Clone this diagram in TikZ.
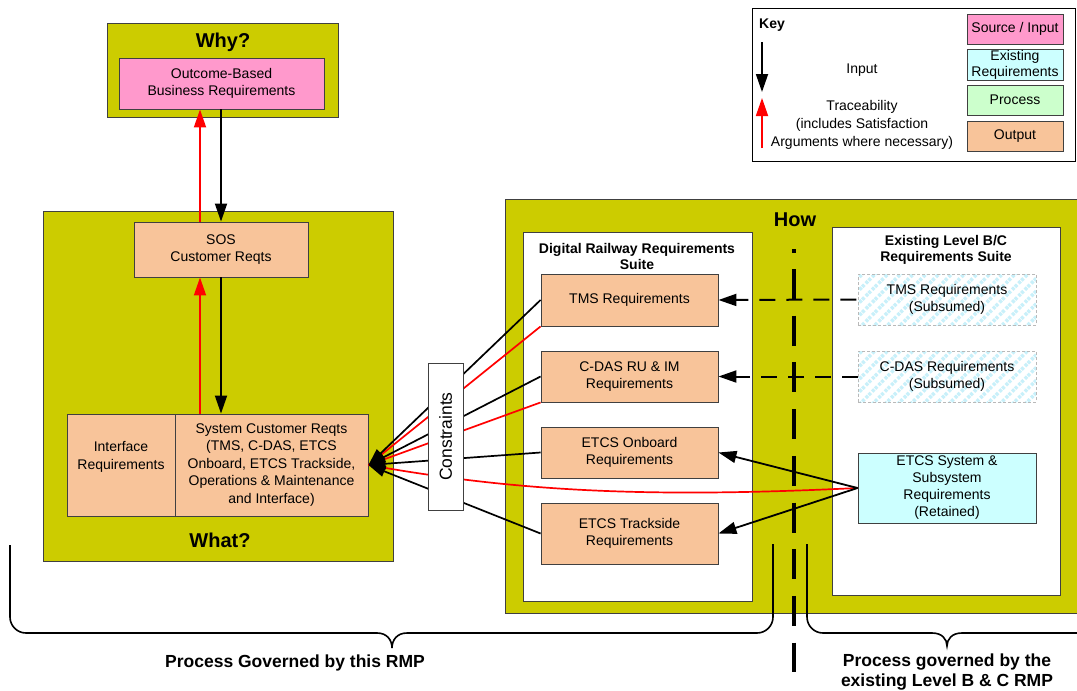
\documentclass[tikz,border=0pt]{standalone}
\usepackage{fontspec}
\setmainfont{Liberation Sans}
\usetikzlibrary{arrows.meta,patterns.meta,calc}

\definecolor{panelolive}{RGB}{204,204,0}
\definecolor{srcpink}{RGB}{255,153,204}
\definecolor{outpeach}{RGB}{248,196,154}
\definecolor{exicyan}{RGB}{204,255,255}
\definecolor{procgreen}{RGB}{204,255,204}
\definecolor{edgegray}{RGB}{64,64,64}
\definecolor{hatchcyan}{RGB}{200,240,250}
\definecolor{hatchedge}{RGB}{185,185,185}
\definecolor{tracered}{RGB}{255,0,0}

\tikzset{
  body/.style={font=\fontsize{14}{17.5}\selectfont, align=center},
  box/.style={draw=edgegray, line width=0.9pt, inner sep=0pt, body},
  panel/.style={draw=edgegray, line width=1pt, fill=panelolive, inner sep=0pt},
  suite/.style={draw=edgegray, line width=1pt, fill=white, inner sep=0pt},
  heading/.style={font=\fontsize{20}{24}\selectfont\bfseries},
  subhead/.style={font=\fontsize{14}{16.5}\selectfont\bfseries, align=center},
  hatched/.style={box, draw=hatchedge, line width=0.7pt, dash pattern=on 3pt off 2pt,
    pattern={Lines[angle=45,distance=9pt,line width=3.5pt]}, pattern color=hatchcyan},
  feed/.style={draw=black, line width=1.8pt, -{Triangle[length=18pt,width=12pt]}},
  trace/.style={draw=tracered, line width=1.8pt, -{Triangle[length=18pt,width=12pt]}},
  tie/.style={draw=black, line width=1.7pt, -{Triangle[length=17pt,width=11pt]}},
  redtie/.style={draw=tracered, line width=1.7pt},
  subsumes/.style={draw=black, line width=2pt, dash pattern=on 16pt off 11pt,
    -{Triangle[length=18pt,width=12pt]}},
  brace/.style={draw=black, line width=1.6pt},
  divider/.style={draw=black, line width=3.2pt},
  bottomlabel/.style={font=\fontsize{17.5}{20}\selectfont\bfseries, align=center}
}

\begin{document}
\begin{tikzpicture}[x=1pt,y=-1pt]
\useasboundingbox (0,0) rectangle (1077,691);
\fill[white] (0,0) rectangle (1077,691);

% ---- Why? ----
\node[panel, minimum width=231pt, minimum height=94pt] (why) at (222.5,70) {};
\node[heading] (whyT) at (223,42) {Why?};
\node[box, fill=srcpink, minimum width=205pt, minimum height=51pt] (outcome) at (221.5,83.5)
  {Outcome-Based\\Business Requirements};

% ---- What? ----
\node[panel, minimum width=350pt, minimum height=350pt] (what) at (218,386) {};
\node[heading] (whatT) at (220,540) {What?};
\node[box, fill=outpeach, minimum width=174pt, minimum height=55pt] (sos) at (221,249.5)
  {SOS\\Customer Reqts};
\node[box, fill=outpeach, minimum width=108pt, minimum height=102pt] (iface) at (121,465) {};
\node[body] (ifaceT) at ([yshift=8pt]iface.center) {Interface\\Requirements};
\node[box, fill=outpeach, minimum width=193pt, minimum height=102pt] (sys) at (271.5,465)
  {System Customer Reqts\\(TMS, C-DAS, ETCS\\Onboard, ETCS Trackside,\\Operations \& Maintenance\\and Interface)};

% input and traceability between the levels
\draw[feed] (sos.north |- outcome.south) -- (sos.north);
\draw[trace] ([xshift=-21pt]sos.north) -- ([xshift=-21pt]sos.north |- outcome.south);
\draw[feed] (sos.south) -- (sos.south |- sys.north);
\draw[trace] ([xshift=-21pt]sos.south |- sys.north) -- ([xshift=-21pt]sos.south);

% ---- How ----
\node[panel, minimum width=580pt, minimum height=414pt] (how) at (795,406) {};
\node[heading] (howT) at (795,220) {How};
\node[suite, minimum width=229pt, minimum height=369pt] (drs) at (637.5,416.5) {};
\node[subhead] (drsT) at (637,256.5) {Digital Railway Requirements\\Suite};
\node[suite, minimum width=228pt, minimum height=368pt] (els) at (946,411) {};
\node[subhead] (elsT) at (946,250) {Existing Level B/C\\Requirements Suite};

\node[box, fill=outpeach, minimum width=177pt, minimum height=52pt] (tms) at (629.5,300) {TMS Requirements};
\node[box, fill=outpeach, minimum width=177pt, minimum height=51pt] (cdas) at (629.5,376.5) {C-DAS RU \& IM\\Requirements};
\node[box, fill=outpeach, minimum width=177pt, minimum height=51pt] (onb) at (629.5,452.5) {ETCS Onboard\\Requirements};
\node[box, fill=outpeach, minimum width=177pt, minimum height=61pt] (trk) at (629.5,533.5) {ETCS Trackside\\Requirements};

\node[hatched, minimum width=178pt, minimum height=51pt] (tmsold) at (947,299.5) {TMS Requirements\\(Subsumed)};
\node[hatched, minimum width=178pt, minimum height=51pt] (cdasold) at (947,376.5) {C-DAS Requirements\\(Subsumed)};
\node[box, fill=exicyan, minimum width=178pt, minimum height=70pt, font=\fontsize{14}{17}\selectfont] (etcs) at (947,488)
  {ETCS System \&\\Subsystem\\Requirements\\(Retained)};

% constraints flowing back to the system customer requirements
\draw[redtie] (tms.south west) -- (sys.east);
\draw[redtie] (cdas.south west) -- (sys.east);
\draw[redtie] (etcs.west) .. controls (650,498) and (520,492) .. (sys.east);
\draw[tie] (tms.west) -- (sys.east);
\draw[tie] (cdas.west) -- (sys.east);
\draw[tie] (onb.west) -- (sys.east);
\draw[tie] (trk.west) -- (sys.east);
\node[box, fill=white, rotate=90, minimum width=147pt, minimum height=35pt,
  font=\fontsize{17.5}{20}\selectfont] (cons) at (445.5,436.5) {Constraints};

% existing requirements feeding the new suite
\draw[subsumes] (tmsold.west) -- (tms.east);
\draw[subsumes] (cdasold.west) -- (cdas.east);
\draw[feed] (etcs.west) -- (onb.east);
\draw[feed] (etcs.west) -- (trk.east);

% boundary between the two governing processes
\draw[divider] (794,249) -- (794,253);
\draw[divider, dash pattern=on 30pt off 16.7pt] (794,269) -- (794,672);

% braces
\draw[brace, rounded corners=16pt] (10,545) -- (10,633) -- (377,633);
\draw[brace] (377,633) .. controls (387,633) and (392,640) .. (392,648)
  .. controls (392,640) and (397,633) .. (407,633);
\draw[brace, rounded corners=16pt] (407,633) -- (773,633) -- (773,544);
\draw[brace, rounded corners=16pt] (807,544) -- (807,633) -- (932,633);
\draw[brace] (932,633) .. controls (942,633) and (947,639) .. (947,646)
  .. controls (947,639) and (952,633) .. (962,633) -- (1090,633);

\node[bottomlabel] (leftlabel) at (295,663) {Process Governed by this RMP};
\node[bottomlabel] (rightlabel) at (947,672) {Process governed by the\\existing Level B \& C RMP};

% ---- Key ----
\node[draw=black, line width=0.8pt, fill=white, minimum width=323pt, minimum height=153pt, inner sep=0pt] (key) at (913.5,84.5) {};
\node[font=\fontsize{14}{17}\selectfont\bfseries] (keyT) at (772,25) {Key};
\coordinate (kin1) at (762,42);
\coordinate (kin2) at (762,92);
\draw[feed] (kin1) -- (kin2);
\coordinate (ktr1) at (762,148);
\coordinate (ktr2) at (762,98);
\draw[trace] (ktr1) -- (ktr2);
\node[body] (keyIn) at (862,70) {Input};
\node[font=\fontsize{14}{18}\selectfont, align=center] (keyTr) at (862,125)
  {Traceability\\(includes Satisfaction\\Arguments where necessary)};
\node[box, fill=srcpink, minimum width=96pt, minimum height=30pt] (lgsrc) at (1015,29) {Source / Input};
\node[box, fill=exicyan, minimum width=96pt, minimum height=31pt, font=\fontsize{14}{16}\selectfont] (lgexi) at (1015,64.5) {Existing\\Requirements};
\node[box, fill=procgreen, minimum width=96pt, minimum height=30pt] (lgproc) at (1015,100) {Process};
\node[box, fill=outpeach, minimum width=96pt, minimum height=30pt] (lgout) at (1015,136) {Output};
\end{tikzpicture}
\end{document}
